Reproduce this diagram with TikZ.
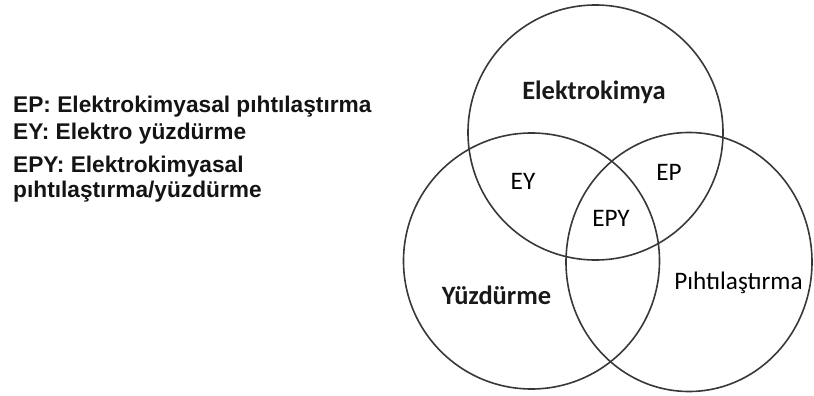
\documentclass[tikz,border=0pt]{standalone}
\usepackage{fontspec}
\setmainfont{Liberation Sans}
\newfontfamily\calibri{Carlito}
\begin{document}
\begin{tikzpicture}[x=1pt,y=-1pt,
  ring/.style={draw=black!78,line width=1.6pt},
  legend/.style={anchor=base west,inner sep=0pt,font=\fontsize{22.7}{27}\selectfont\bfseries,text=black!92},
  setlabel/.style={inner sep=0pt,font=\calibri\fontsize{26.5}{31}\selectfont\bfseries,text=black!90},
  zonelabel/.style={inner sep=0pt,font=\calibri\fontsize{25.2}{30}\selectfont,text=black}]
\useasboundingbox (0,0) rectangle (814,396);
% legend
\node[legend] (l1) at (13,112) {EP: Elektrokimyasal pıhtılaştırma};
\node[legend] (l2) at (13,139) {EY: Elektro yüzdürme};
\node[legend] (l3) at (13,172) {EPY: Elektrokimyasal};
\node[legend] (l4) at (13,197) {pıhtılaştırma/yüzdürme};
% the three sets
\draw[ring] (595.5,132.5) circle[radius=127.5];
\draw[ring] (531.5,261) circle[radius=128];
\draw[ring] (689,262) ellipse[x radius=123,y radius=129.5];
% set and overlap labels
\node[setlabel] (elk) at (594,92) {Elektrokimya};
\node[setlabel] (yuz) at (496.5,295) {Yüzdürme};
\node[zonelabel] (pih) at (738.5,283) {Pıhtılaştırma};
\node[zonelabel] (ey) at (523,181) {EY};
\node[zonelabel] (ep) at (669,172) {EP};
\node[zonelabel] (epy) at (611,218) {EPY};
\end{tikzpicture}
\end{document}
